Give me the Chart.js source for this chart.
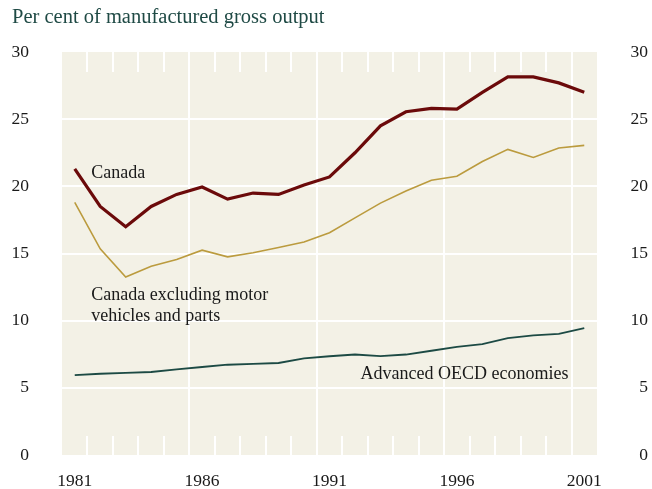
<!DOCTYPE html>
<html>
<head>
<meta charset="utf-8">
<script src="https://cdn.jsdelivr.net/npm/chart.js@4"></script>
<style>
  body { margin: 0; background: #fff; }
  canvas { display: block; }
</style>
</head>
<body>
<canvas id="myChart" width="652" height="489"></canvas>
<script>
// data
var years = [1981, 1982, 1983, 1984, 1985, 1986, 1987, 1988, 1989, 1990, 1991,
             1992, 1993, 1994, 1995, 1996, 1997, 1998, 1999, 2000, 2001];
var canada = [21.3, 18.5, 17.0, 18.5, 19.4, 19.95, 19.05, 19.5, 19.4, 20.1, 20.7,
              22.5, 24.5, 25.55, 25.8, 25.75, 27.0, 28.15, 28.15, 27.7, 27.0];
var canadaExMotor = [18.8, 15.35, 13.25, 14.05, 14.55, 15.25, 14.75, 15.05, 15.45, 15.85, 16.55,
                     17.65, 18.75, 19.65, 20.45, 20.75, 21.85, 22.75, 22.15, 22.85, 23.05];
var oecd = [5.95, 6.05, 6.12, 6.18, 6.38, 6.55, 6.72, 6.78, 6.85, 7.2, 7.35,
            7.48, 7.36, 7.48, 7.76, 8.05, 8.25, 8.7, 8.9, 9.02, 9.45];
var xLabelYears = [1981, 1986, 1991, 1996, 2001];
var yTicks = [0, 5, 10, 15, 20, 25, 30];

var serif = '"Liberation Serif", "DejaVu Serif", serif';

function points(values) {
    return years.map(function (yr, i) { return { x: yr, y: values[i] }; });
}

// beige plot area, small white year ticks, title and line labels
var decor = {
    id: 'decor',
    beforeDraw: function (chart) {
        var c = chart.ctx, a = chart.chartArea;
        c.save();
        c.fillStyle = '#f3f1e6';
        c.fillRect(a.left, a.top, a.right - a.left, a.bottom - a.top);
        c.restore();
    },
    beforeDatasetsDraw: function (chart) {
        var c = chart.ctx, a = chart.chartArea, xs = chart.scales.x;
        c.save();
        c.strokeStyle = '#ffffff';
        c.lineWidth = 2;
        years.slice(0, -1).forEach(function (yr) {
            var px = Math.round(xs.getPixelForValue(yr + 0.5));
            c.beginPath();
            c.moveTo(px, a.top); c.lineTo(px, a.top + 20);
            c.moveTo(px, a.bottom - 19); c.lineTo(px, a.bottom);
            c.stroke();
        });
        c.restore();
    },
    afterDraw: function (chart) {
        var c = chart.ctx, xs = chart.scales.x, ys = chart.scales.y;
        c.save();
        c.textBaseline = 'middle';
        c.textAlign = 'left';
        c.fillStyle = '#1f4a45';
        c.font = '20.5px ' + serif;
        c.fillText('Per cent of manufactured gross output', 12, 18);

        c.fillStyle = '#1a1a1a';
        c.font = '18px ' + serif;
        c.fillText('Canada', xs.getPixelForValue(1981.65), ys.getPixelForValue(21.0));
        c.fillText('Canada excluding motor', xs.getPixelForValue(1981.65), ys.getPixelForValue(11.9));
        c.fillText('vehicles and parts', xs.getPixelForValue(1981.65), ys.getPixelForValue(10.3));
        c.fillText('Advanced OECD economies', xs.getPixelForValue(1992.22), ys.getPixelForValue(6.0));
        c.restore();
    }
};

var tickFont = { family: serif, size: 17.5 };

var ctx = document.getElementById('myChart').getContext('2d');
var myChart = new Chart(ctx, {
    type: 'line',
    data: {
        datasets: [{
            label: 'Advanced OECD economies',
            data: points(oecd),
            borderColor: '#1c4a44',
            borderWidth: 1.8
        }, {
            label: 'Canada excluding motor vehicles and parts',
            data: points(canadaExMotor),
            borderColor: '#bb9b3e',
            borderWidth: 1.6
        }, {
            label: 'Canada',
            data: points(canada),
            borderColor: '#6b0a0a',
            borderWidth: 3.2
        }]
    },
    options: {
        responsive: false,
        animation: false,
        layout: { padding: { top: 52, right: 4, bottom: 0, left: 0 } },
        elements: { point: { radius: 0 }, line: { tension: 0, borderJoinStyle: 'miter' } },
        plugins: { legend: { display: false }, tooltip: { enabled: false } },
        scales: {
            x: {
                type: 'linear',
                min: 1980.5, max: 2001.5,
                grid: { display: false, drawTicks: false },
                border: { display: false },
                afterBuildTicks: function (s) { s.ticks = xLabelYears.map(function (v) { return { value: v }; }); },
                afterFit: function (s) { s.height = 34; },
                ticks: { color: '#1a1a1a', font: tickFont, padding: 16, maxRotation: 0, autoSkip: false,
                         callback: function (v) { return String(v); } }
            },
            x2: {
                type: 'linear',
                position: 'bottom',
                min: 1980.5, max: 2001.5,
                grid: { color: '#ffffff', lineWidth: 2, drawTicks: false },
                border: { display: false },
                afterBuildTicks: function (s) {
                    s.ticks = xLabelYears.slice(1).map(function (v) { return { value: v - 0.5 }; });
                },
                afterFit: function (s) { s.height = 0; },
                ticks: { display: false }
            },
            y: {
                min: 0, max: 30,
                afterBuildTicks: function (s) { s.ticks = yTicks.map(function (v) { return { value: v }; }); },
                afterFit: function (s) { s.width = 62; },
                grid: {
                    drawTicks: true,
                    tickLength: 33,
                    tickColor: 'rgba(0,0,0,0)',
                    lineWidth: 2,
                    color: function (c) {
                        return (c.tick && c.tick.value > 0 && c.tick.value < 30) ? '#ffffff' : 'rgba(0,0,0,0)';
                    }
                },
                border: { display: false },
                ticks: { color: '#1a1a1a', font: tickFont, padding: 0 }
            },
            y2: {
                position: 'right',
                min: 0, max: 30,
                afterBuildTicks: function (s) { s.ticks = yTicks.map(function (v) { return { value: v }; }); },
                afterFit: function (s) { s.width = 51; },
                grid: { display: false, drawTicks: false },
                border: { display: false },
                ticks: { color: '#1a1a1a', font: tickFont, padding: 0, crossAlign: 'far' }
            }
        }
    },
    plugins: [decor]
});
</script>
</body>
</html>
